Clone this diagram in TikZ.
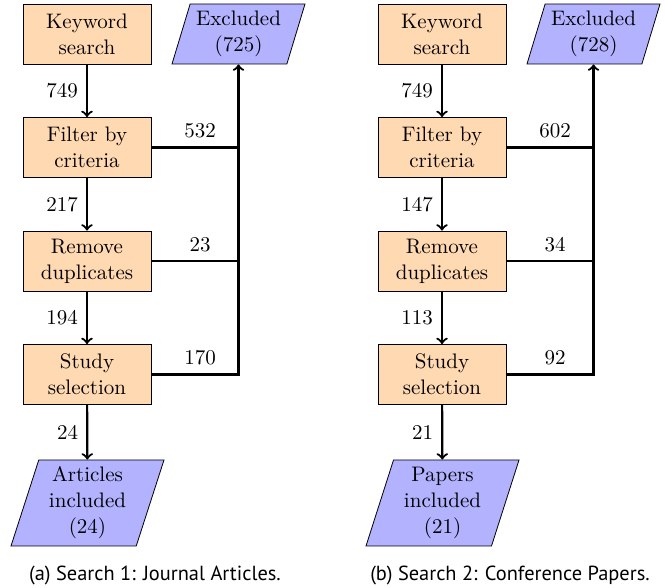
\documentclass[tikz,border=0pt]{standalone}
\usepackage{fontspec}
\newfontfamily\capfont{PT Sans}
\usetikzlibrary{shapes.geometric}
\begin{document}
\begin{tikzpicture}[x=0.5pt,y=-0.5pt,
  font=\fontsize{10.5}{13}\selectfont,
  stepbox/.style={draw, fill=orange!30, minimum width=64pt, minimum height=30pt,
    align=center, inner sep=2pt},
  iobox/.style={draw, fill=blue!30, trapezium, trapezium left angle=70,
    trapezium right angle=110, trapezium stretches body,
    minimum width=66.5pt, minimum height=30pt, align=center, inner sep=1pt},
  outbox/.style={iobox, minimum width=76.5pt, minimum height=43pt},
  flow/.style={line width=1.1pt, ->},
  feed/.style={line width=1.1pt},
  num/.style={inner sep=4pt},
  figcap/.style={font=\capfont\fontsize{10.2}{12}\selectfont}]
\useasboundingbox (0,0) rectangle (665,588);

% ---- Search 1: journal articles ----
\node[stepbox] (a-key)  at (87,34)    {Keyword\\search};
\node[stepbox] (a-filt) at (87,147.5) {Filter by\\criteria};
\node[stepbox] (a-dup)  at (87,261)   {Remove\\duplicates};
\node[stepbox] (a-sel)  at (87,374.5) {Study\\selection};
\node[iobox]   (a-exc)  at (238.5,34) {Excluded\\(725)};
\node[outbox]  (a-inc)  at (87.5,503) {Articles\\included\\(24)};

\draw[flow] (a-key) -- node[num,left]{749} (a-filt);
\draw[flow] (a-filt) -- node[num,left]{217} (a-dup);
\draw[flow] (a-dup) -- node[num,left]{194} (a-sel);
\draw[flow] (a-sel) -- node[num,left]{24} (a-inc);
\draw[flow] (a-sel.east) -| node[num,above,pos=0.28]{170} (a-exc.south);
\draw[feed] (a-filt.east) -- node[num,above,pos=0.56]{532} (a-filt.east -| a-exc.south);
\draw[feed] (a-dup.east) -- node[num,above,pos=0.56]{23} (a-dup.east -| a-exc.south);

\node[figcap] (a-cap) at (155,575) {(a) Search 1: Journal Articles.};

% ---- Search 2: conference papers ----
\node[stepbox] (b-key)  at (442,34)    {Keyword\\search};
\node[stepbox] (b-filt) at (442,147.5) {Filter by\\criteria};
\node[stepbox] (b-dup)  at (442,261)   {Remove\\duplicates};
\node[stepbox] (b-sel)  at (442,374.5) {Study\\selection};
\node[iobox]   (b-exc)  at (593.5,34)  {Excluded\\(728)};
\node[outbox]  (b-inc)  at (442.5,503) {Papers\\included\\(21)};

\draw[flow] (b-key) -- node[num,left]{749} (b-filt);
\draw[flow] (b-filt) -- node[num,left]{147} (b-dup);
\draw[flow] (b-dup) -- node[num,left]{113} (b-sel);
\draw[flow] (b-sel) -- node[num,left]{21} (b-inc);
\draw[flow] (b-sel.east) -| node[num,above,pos=0.28]{92} (b-exc.south);
\draw[feed] (b-filt.east) -- node[num,above,pos=0.56]{602} (b-filt.east -| b-exc.south);
\draw[feed] (b-dup.east) -- node[num,above,pos=0.56]{34} (b-dup.east -| b-exc.south);

\node[figcap] (b-cap) at (510,575) {(b) Search 2: Conference Papers.};
\end{tikzpicture}
\end{document}
